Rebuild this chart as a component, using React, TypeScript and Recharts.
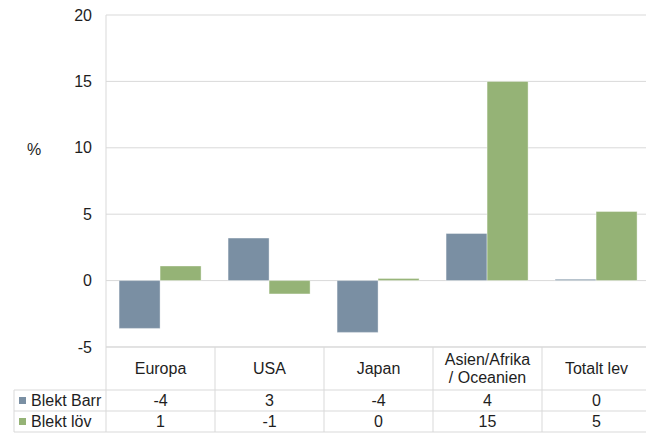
import { BarChart, Bar, XAxis, YAxis, CartesianGrid } from "recharts";

const categories = ["Europa", "USA", "Japan", "Asien/Afrika\n/ Oceanien", "Totalt lev"];
const blektBarr = [-3.6, 3.2, -3.9, 3.55, 0.1];
const blektLov = [1.1, -1.0, 0.15, 15.0, 5.2];
const yTicks = [-5, 0, 5, 10, 15, 20];

const series = [
  { key: "barr", name: "Blekt Barr", color: "#7a8fa3" },
  { key: "lov", name: "Blekt löv", color: "#95b376" },
];

const data = categories.map((c, i) => ({
  name: c,
  barr: blektBarr[i],
  lov: blektLov[i],
}));

const FONT = "'Liberation Sans', Arial, sans-serif";
const GRID = "#d9d9d9";
const TEXT = "#1e1e1e";
const FS = 16;

const CHART_W = 651;
const CHART_H = 434;
const Y_W = 106;
const BAND = (CHART_W - Y_W) / categories.length;

// row layout of the table under the plot, measured from the x axis line
const ROW1 = 43;
const ROW2 = 64;
const ROW3 = 85;

function TableTick(props: any) {
  const { x, y, payload } = props;
  const i = categories.indexOf(payload.value);
  const left = x - BAND / 2;
  const right = x + BAND / 2;
  const lines = String(payload.value).split("\n");
  const rows = [blektBarr, blektLov];
  return (
    <g fontFamily={FONT} fontSize={FS} fill={TEXT}>
      <line x1={right} y1={y} x2={right} y2={y + ROW3} stroke={GRID} />
      {[ROW1, ROW2, ROW3].map((r) => (
        <line key={r} x1={left} y1={y + r} x2={right} y2={y + r} stroke={GRID} />
      ))}
      {lines.map((l, k) => (
        <text
          key={k}
          x={x}
          y={y + ROW1 / 2 + (k - (lines.length - 1) / 2) * 18}
          textAnchor="middle"
          dominantBaseline="central"
        >
          {l}
        </text>
      ))}
      {rows.map((vals, k) => (
        <text
          key={k}
          x={x}
          y={y + (k === 0 ? (ROW1 + ROW2) / 2 : (ROW2 + ROW3) / 2)}
          textAnchor="middle"
          dominantBaseline="central"
        >
          {Math.round(vals[i])}
        </text>
      ))}
      {i === 0 && (
        <g>
          <line x1={left} y1={y} x2={left} y2={y + ROW3} stroke={GRID} />
          <line x1={14} y1={y + ROW1} x2={14} y2={y + ROW3} stroke={GRID} />
          {[ROW1, ROW2, ROW3].map((r) => (
            <line key={r} x1={14} y1={y + r} x2={left} y2={y + r} stroke={GRID} />
          ))}
          {series.map((s, k) => {
            const cy = y + (k === 0 ? (ROW1 + ROW2) / 2 : (ROW2 + ROW3) / 2);
            return (
              <g key={s.key}>
                <rect x={19} y={cy - 3.5} width={7} height={7} fill={s.color} />
                <text x={31} y={cy} dominantBaseline="central" textAnchor="start">
                  {s.name}
                </text>
              </g>
            );
          })}
        </g>
      )}
    </g>
  );
}

export default function App() {
  return (
    <div
      style={{
        position: "absolute",
        left: 0,
        top: 0,
        width: 646,
        height: 434,
        overflow: "hidden",
        background: "#fff",
      }}
    >
      <BarChart
        width={CHART_W}
        height={CHART_H}
        data={data}
        margin={{ top: 15, right: 0, left: 0, bottom: 0 }}
        barGap={0}
        barCategoryGap="12%"
      >
        <CartesianGrid vertical={false} stroke={GRID} />
        <XAxis
          dataKey="name"
          height={87}
          interval={0}
          tickLine={false}
          tickSize={0}
          tickMargin={0}
          axisLine={{ stroke: GRID }}
          tick={<TableTick />}
        />
        <YAxis
          width={Y_W}
          domain={[-5, 20]}
          ticks={yTicks}
          interval={0}
          tickLine={false}
          tickMargin={8}
          axisLine={{ stroke: GRID }}
          tick={{ fontFamily: FONT, fontSize: FS, fill: TEXT }}
          label={{
            value: "%",
            content: (p: any) => (
              <text
                x={p.viewBox.x + 34}
                y={p.viewBox.y + 134}
                textAnchor="middle"
                dominantBaseline="central"
                fontFamily={FONT}
                fontSize={FS}
                fill={TEXT}
              >
                %
              </text>
            ),
          }}
        />
        {series.map((s) => (
          <Bar
            key={s.key}
            dataKey={s.key}
            name={s.name}
            fill={s.color}
            stroke="#ffffff"
            strokeOpacity={0.5}
            strokeWidth={0.75}
            isAnimationActive={false}
          />
        ))}
      </BarChart>
    </div>
  );
}
